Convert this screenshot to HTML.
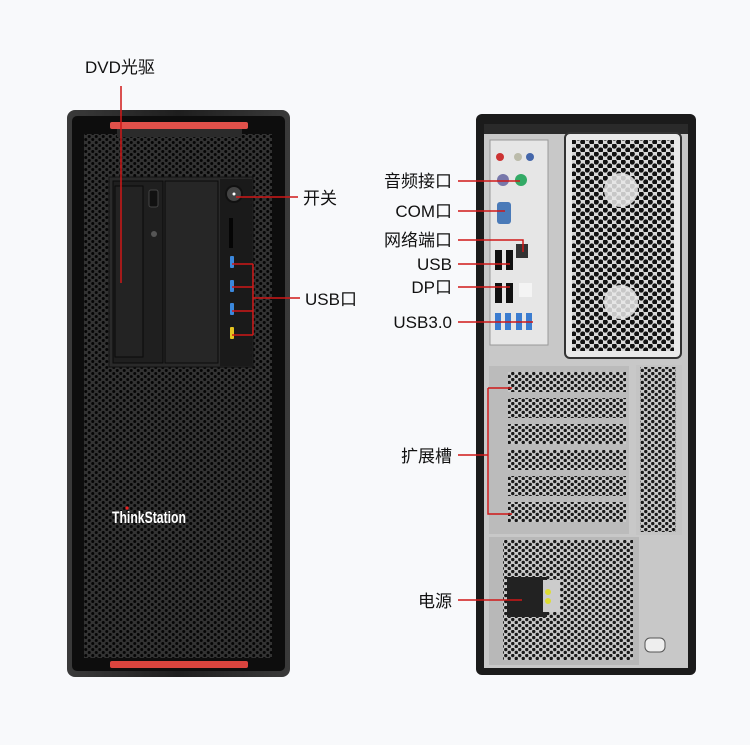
<!DOCTYPE html>
<html><head><meta charset="utf-8"><style>
html,body{margin:0;padding:0;background:#f8f9fb;}
svg{display:block;}
text{font-family:"Liberation Sans","Noto Sans CJK SC",sans-serif;fill:#111;font-size:17px;}
</style></head><body>
<svg width="750" height="745" viewBox="0 0 750 745" xmlns="http://www.w3.org/2000/svg">
<defs>
<pattern id="hexD" width="7" height="6" patternUnits="userSpaceOnUse">
<rect width="7" height="6" fill="#333"/>
<circle cx="1.75" cy="1.5" r="1.5" fill="#050505"/>
<circle cx="5.25" cy="4.5" r="1.5" fill="#050505"/>
</pattern>
<pattern id="hexL" width="9" height="8" patternUnits="userSpaceOnUse">
<rect width="9" height="8" fill="#d8d8d8"/>
<circle cx="2.25" cy="2" r="2.6" fill="#111"/>
<circle cx="6.75" cy="6" r="2.6" fill="#111"/>
</pattern>
<pattern id="hexS" width="7" height="6" patternUnits="userSpaceOnUse">
<rect width="7" height="6" fill="#c9c9c9"/>
<circle cx="1.75" cy="1.5" r="1.7" fill="#1a1a1a"/>
<circle cx="5.25" cy="4.5" r="1.7" fill="#1a1a1a"/>
</pattern>
<linearGradient id="frontG" x1="0" x2="1"><stop offset="0" stop-color="#3a3a3a"/><stop offset="0.5" stop-color="#1e1e1e"/><stop offset="1" stop-color="#3a3a3a"/></linearGradient>
</defs>

<!-- FRONT TOWER -->
<rect x="67" y="110" width="223" height="567" rx="8" fill="url(#frontG)"/>
<rect x="72" y="116" width="213" height="555" rx="5" fill="#0d0d0d"/>
<rect x="84" y="134" width="188" height="524" fill="url(#hexD)"/>
<rect x="110" y="122" width="138" height="7" rx="2" fill="#e0504a"/>
<rect x="117" y="129" width="125" height="8" fill="#2b2b2b"/>
<rect x="110" y="661" width="138" height="7" rx="2" fill="#d9443e"/>
<!-- drive bay -->
<rect x="109" y="177" width="144" height="190" fill="#2a2a2a" stroke="#111"/>
<rect x="113" y="181" width="50" height="182" fill="#1f1f1f" stroke="#0a0a0a"/>
<rect x="115" y="186" width="28" height="171" fill="#232323" stroke="#0a0a0a"/>
<rect x="149" y="190" width="9" height="17" rx="2" fill="#111" stroke="#444"/>
<circle cx="154" cy="234" r="3" fill="#555"/>
<rect x="165" y="181" width="53" height="182" fill="#262626" stroke="#0a0a0a"/>
<rect x="220" y="179" width="32" height="187" fill="#1a1a1a"/>
<circle cx="234" cy="194" r="8" fill="#444" stroke="#111" stroke-width="2"/>
<circle cx="234" cy="194" r="1.5" fill="#fff"/>
<rect x="229" y="218" width="4" height="30" fill="#050505"/>
<rect x="230" y="256" width="4" height="12" rx="1" fill="#3b88dd"/>
<rect x="230" y="280" width="4" height="12" rx="1" fill="#3b88dd"/>
<rect x="230" y="303" width="4" height="12" rx="1" fill="#3b88dd"/>
<rect x="230" y="327" width="4" height="12" rx="1" fill="#e5c420"/>
<text x="112" y="523" textLength="74" lengthAdjust="spacingAndGlyphs" style="fill:#fff;font-size:17px;font-weight:bold;">ThinkStation</text>
<circle cx="127" cy="508" r="1.6" fill="#e22"/>

<!-- BACK TOWER -->
<rect x="476" y="114" width="220" height="561" rx="6" fill="#1b1b1b"/>
<rect x="484" y="124" width="204" height="544" fill="#c8c8c8"/>
<rect x="484" y="124" width="204" height="10" fill="#2a2a2a"/>
<!-- IO panel -->
<rect x="490" y="140" width="58" height="205" fill="#e6e6e6" stroke="#999"/>
<circle cx="500" cy="157" r="4" fill="#c33"/><circle cx="518" cy="157" r="4" fill="#bba"/><circle cx="530" cy="157" r="4" fill="#46a"/>
<circle cx="503" cy="180" r="6" fill="#77a"/><circle cx="521" cy="180" r="6" fill="#3a6"/>
<rect x="497" y="202" width="14" height="22" rx="3" fill="#4a7ab8"/>
<rect x="516" y="244" width="12" height="14" fill="#333"/>
<rect x="495" y="250" width="7" height="20" fill="#111"/><rect x="506" y="250" width="7" height="20" fill="#111"/>
<rect x="495" y="283" width="7" height="20" fill="#111"/><rect x="506" y="283" width="7" height="20" fill="#111"/>
<rect x="519" y="283" width="13" height="14" fill="#f4f4f4"/>
<rect x="495" y="313" width="6" height="17" fill="#3b7cd0"/><rect x="505" y="313" width="6" height="17" fill="#3b7cd0"/><rect x="516" y="313" width="6" height="17" fill="#3b7cd0"/><rect x="526" y="313" width="6" height="17" fill="#3b7cd0"/>
<!-- fan -->
<rect x="565" y="133" width="116" height="225" rx="5" fill="#e9e9e9" stroke="#333" stroke-width="2"/>
<rect x="572" y="140" width="102" height="211" fill="url(#hexL)"/>
<circle cx="621" cy="190" r="17" fill="#e8e8e8" opacity="0.85"/>
<circle cx="621" cy="302" r="17" fill="#e8e8e8" opacity="0.85"/>
<!-- slots -->
<rect x="489" y="366" width="140" height="168" fill="#bbb"/>
<g fill="url(#hexS)">
<rect x="508" y="372" width="118" height="20"/><rect x="508" y="398" width="118" height="20"/>
<rect x="508" y="424" width="118" height="20"/><rect x="508" y="450" width="118" height="20"/>
<rect x="508" y="476" width="118" height="20"/><rect x="508" y="502" width="118" height="20"/>
</g>
<rect x="636" y="365" width="46" height="170" fill="#c4c4c4"/>
<rect x="640" y="367" width="36" height="165" fill="url(#hexS)"/>
<!-- PSU -->
<rect x="489" y="537" width="150" height="128" fill="#b8b8b8"/>
<rect x="503" y="540" width="130" height="120" fill="url(#hexS)"/>
<rect x="507" y="577" width="40" height="40" fill="#222"/>
<rect x="543" y="580" width="17" height="32" fill="#ccc"/>
<circle cx="548" cy="592" r="3" fill="#dd3"/><circle cx="548" cy="601" r="3" fill="#dd3"/>
<rect x="645" y="638" width="20" height="14" rx="5" fill="#eee" stroke="#555"/>

<!-- CONNECTOR LINES -->
<g stroke="#d01818" stroke-width="1.5" fill="none">
<path d="M121 86 V283"/>
<path d="M236 197 H298"/>
<path d="M232 264 H253 M232 287 H253 M232 311 H253 M232 335 H253 M253 264 V335 M253 298 H300"/>
<path d="M458 181 H520"/>
<path d="M458 211 H505"/>
<path d="M458 240 H523 V252"/>
<path d="M458 264 H510"/>
<path d="M458 287 H510"/>
<path d="M458 322 H533"/>
<path d="M488 388 H512 M488 388 V514 H512 M458 455 H488"/>
<path d="M458 600 H522"/>
</g>

<!-- LABELS -->
<text x="85" y="73">DVD光驱</text>
<text x="303" y="204">开关</text>
<text x="305" y="305">USB口</text>
<g text-anchor="end">
<text x="452" y="187">音频接口</text>
<text x="452" y="217">COM口</text>
<text x="452" y="246">网络端口</text>
<text x="452" y="270">USB</text>
<text x="452" y="293">DP口</text>
<text x="452" y="328">USB3.0</text>
<text x="452" y="462">扩展槽</text>
<text x="452" y="607">电源</text>
</g>
</svg>
</body></html>
